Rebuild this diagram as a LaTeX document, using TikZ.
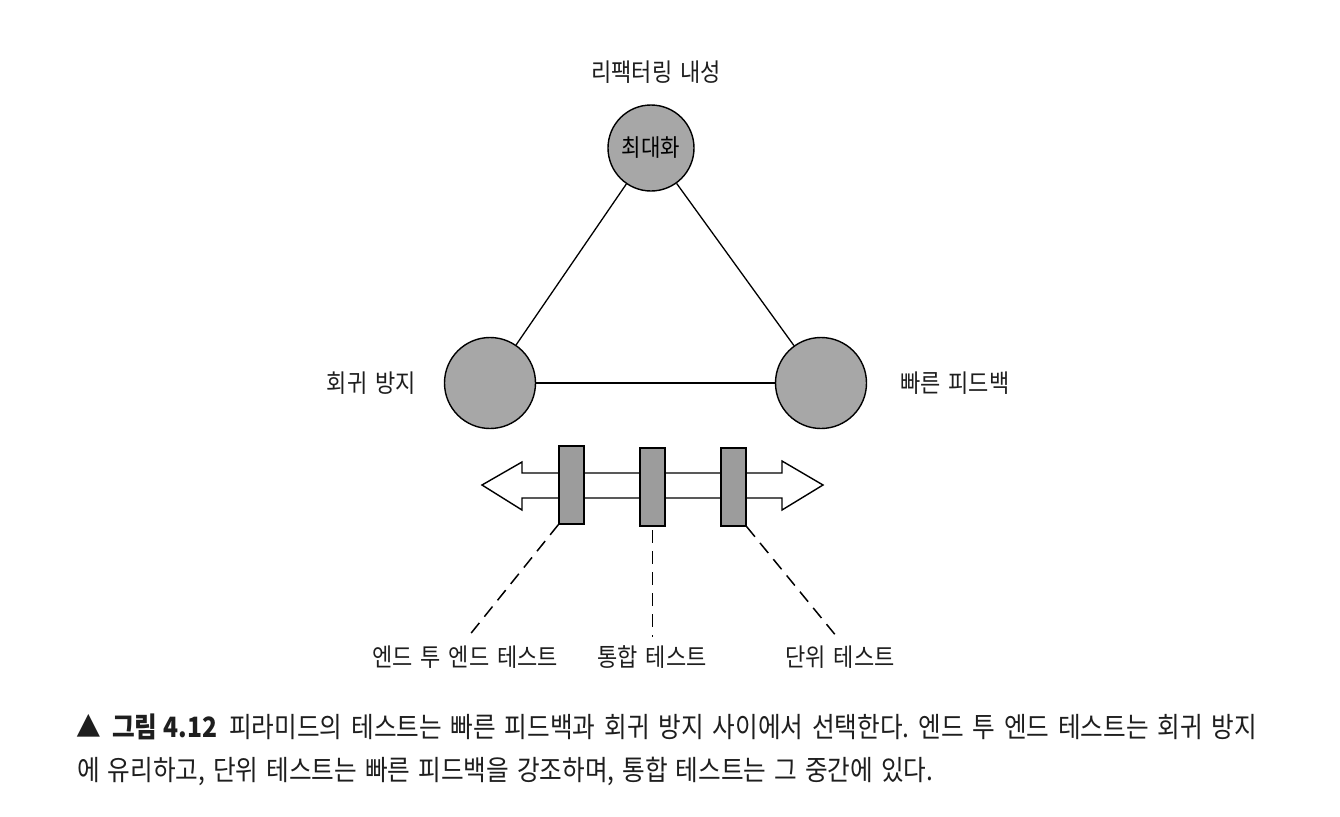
\documentclass[tikz,border=0pt]{standalone}
\usepackage{fontspec}
\setmainfont{Noto Sans CJK KR}
\newfontfamily\krn[FakeStretch=0.88]{Noto Sans CJK KR}
\frenchspacing
\newcommand\mylblfont{\krn\fontsize{25}{29}\selectfont\spaceskip=8pt\relax}
\newcommand\mycapfont{\krn\fontsize{28}{32}\selectfont\spaceskip=7pt plus 20pt minus 3pt\relax}
\begin{document}
\begin{tikzpicture}[x=1pt,y=-1pt,
  ball/.style={circle,draw=black,line width=1.4pt,fill=ballgray,inner sep=0pt,font=\krn\fontsize{24}{28}\selectfont},
  bar/.style={rectangle,draw=black,line width=1.4pt,fill=bargray,minimum width=25pt,minimum height=78pt,inner sep=0pt},
  lbl/.style={font=\mylblfont,inner sep=0pt,text=txt},
  captext/.style={font=\mycapfont,inner sep=0pt,text=txt,anchor=base west},
  conn/.style={line width=1.3pt},
  dashline/.style={line width=1.5pt,dash pattern=on 13pt off 8pt}
]
\definecolor{ballgray}{HTML}{A7A7A7}
\definecolor{bargray}{HTML}{9C9C9C}
\definecolor{txt}{HTML}{1E1E1E}
\useasboundingbox[fill=white] (0,0) rectangle (1340,816);

% circles
\node[ball,minimum size=86pt] (top) at (651,148) {최대화};
\node[ball,minimum size=91pt] (left) at (490,383) {};
\node[ball,minimum size=91pt] (right) at (821,383) {};
\draw[conn] (top) -- (left);
\draw[conn] (top) -- (right);
\draw[conn] (left) -- (right);

% labels
\node[lbl] (ltop) at (656,72) {리팩터링 내성};
\node[lbl,anchor=east] (lleft) at (416,383) {회귀 방지};
\node[lbl,anchor=west] (lright) at (900,383) {빠른 피드백};

% double arrow
\draw[line width=1.4pt,fill=white,line join=miter]
  (482,485) -- (522,462) -- (522,473) -- (782,473) -- (782,461) -- (823,485)
  -- (782,510) -- (782,498) -- (522,498) -- (522,510) -- cycle;

% bars
\node[bar] (b1) at (571.5,485) {};
\node[bar] (b2) at (652.5,487) {};
\node[bar] (b3) at (733.5,487) {};

% bottom labels
\node[lbl] (t1) at (465,657) {엔드 투 엔드 테스트};
\node[lbl] (t2) at (652,657) {통합 테스트};
\node[lbl] (t3) at (840,657) {단위 테스트};
\coordinate (s2) at (652.5,530);
\coordinate (e1) at (468,637);
\coordinate (e2) at (652.5,637);
\coordinate (e3) at (837,637);
\draw[dashline] (b1.south west) -- (e1);
\draw[dashline] (s2) -- (e2);
\draw[dashline] (b3.south east) -- (e3);

% caption
\node[captext] (tri) at (76,737) {\textbf{▲}};
\node[captext] (fig) at (112,737) {\textbf{그림\hspace{6pt}4.12}};
\node[captext] (cap1) at (229,737)
  {\makebox[1028pt][s]{피라미드의 테스트는 빠른 피드백과 회귀 방지 사이에서 선택한다. 엔드 투 엔드 테스트는 회귀 방지}};
\node[captext] (cap2) at (77,780)
  {\makebox[856pt][s]{에 유리하고, 단위 테스트는 빠른 피드백을 강조하며, 통합 테스트는 그 중간에 있다.}};
\end{tikzpicture}
\end{document}
